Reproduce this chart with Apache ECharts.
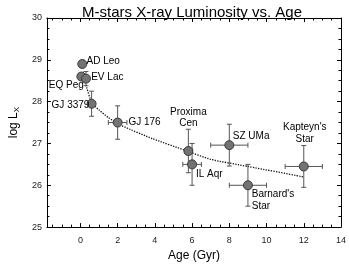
<!DOCTYPE html>
<html>
<head>
<meta charset="utf-8">
<script src="https://cdn.jsdelivr.net/npm/echarts@6/dist/echarts.min.js"></script>
<style>
html,body{margin:0;padding:0;background:#fff;}
#chart{width:349px;height:267px;}
</style>
</head>
<body>
<div id="chart"></div>
<script>
// ---- data ----
var starNames = ['AD Leo', 'EQ Peg', 'EV Lac', 'GJ 3379', 'GJ 176', 'Proxima\nCen', 'IL Aqr', 'SZ UMa', "Barnard's\nStar", "Kapteyn's\nStar"];
var ages      = [0.1, 0.05, 0.3, 0.6, 2.0, 5.8, 6.0, 8.0, 9.0, 12.0];
var logLx     = [28.9, 28.6, 28.55, 27.95, 27.5, 26.82, 26.5, 26.96, 26.0, 26.45];
var ageErr    = [0, 0, 0, 0, 0.5, 0.2, 0.5, 1.0, 1.0, 1.0];
var logLxErr  = [0.08, 0.08, 0.17, 0.3, 0.4, 0.52, 0.5, 0.5, 0.5, 0.5];

var fitAges   = [0.3, 0.6, 1.0, 1.5, 2.2, 3.9, 5.6, 7.0, 9.0, 12.0];
var fitLogLx  = [28.4, 27.98, 27.8, 27.62, 27.43, 27.11, 26.84, 26.62, 26.45, 26.2];

var xTickLabels = [0, 2, 4, 6, 8, 10, 12, 14];
var xMinorTicks = [-1.5, -1, -0.5, 0.5, 1, 1.5, 2.5, 3, 3.5, 4.5, 5, 5.5, 6.5, 7, 7.5, 8.5, 9, 9.5, 10.5, 11, 11.5, 12.5, 13, 13.5];
var yTickLabels = [25, 26, 27, 28, 29, 30];

// ---- label layout (offset of label from point centre, px) ----
var labelLayout = {
  'AD Leo': [4.7, -2, 'left'],
  'EQ Peg': [3, 9.3, 'right'],
  'EV Lac': [5.7, -1, 'left'],
  'GJ 3379': [-1.7, 2.3, 'right'],
  'GJ 176': [11.3, 0, 'left'],
  'Proxima\nCen': [0.5, -32.5, 'center'],
  'IL Aqr': [4.3, 10.3, 'left'],
  'SZ UMa': [4, -8, 'left'],
  "Barnard's\nStar": [4.3, 15.4, 'left'],
  "Kapteyn's\nStar": [1.5, -32.5, 'center']
};

var FONT = '"Liberation Sans", Arial, Helvetica, sans-serif';
var SYM = 9;

var pointData = starNames.map(function (n, i) {
  var L = labelLayout[n];
  return {
    value: [ages[i], logLx[i]],
    label: {
      show: true,
      formatter: n,
      position: [SYM / 2 + L[0], SYM / 2 + L[1]],
      align: L[2],
      verticalAlign: 'middle',
      fontSize: 10,
      lineHeight: 11.5,
      fontFamily: FONT,
      color: '#000'
    }
  };
});

var errData = starNames.map(function (n, i) {
  return [ages[i], logLx[i], ageErr[i], logLxErr[i]];
});

var fitData = fitAges.map(function (a, i) { return [a, fitLogLx[i]]; });

function renderErr(params, api) {
  var x = api.value(0), y = api.value(1), ex = api.value(2), ey = api.value(3);
  var c = api.coord([x, y]);
  var style = { stroke: '#555', lineWidth: 1 };
  var cap = 2.5;
  var children = [];
  if (ey > 0) {
    var t = api.coord([x, y + ey]), b = api.coord([x, y - ey]);
    children.push({ type: 'line', shape: { x1: c[0], y1: t[1], x2: c[0], y2: b[1] }, style: style });
    children.push({ type: 'line', shape: { x1: c[0] - cap, y1: t[1], x2: c[0] + cap, y2: t[1] }, style: style });
    children.push({ type: 'line', shape: { x1: c[0] - cap, y1: b[1], x2: c[0] + cap, y2: b[1] }, style: style });
  }
  if (ex > 0) {
    var l = api.coord([x - ex, y]), r = api.coord([x + ex, y]);
    children.push({ type: 'line', shape: { x1: l[0], y1: c[1], x2: r[0], y2: c[1] }, style: style });
    children.push({ type: 'line', shape: { x1: l[0], y1: c[1] - cap, x2: l[0], y2: c[1] + cap }, style: style });
    children.push({ type: 'line', shape: { x1: r[0], y1: c[1] - cap, x2: r[0], y2: c[1] + cap }, style: style });
  }
  return { type: 'group', children: children };
}

var axisLineStyle = { color: '#000', width: 1 };
function xAx(pos, major, withLabel) {
  return {
    type: 'value', position: pos, min: -1.8, max: 14,
    axisLine: { show: major, onZero: false, lineStyle: axisLineStyle },
    axisTick: { show: true, inside: true, length: major ? 4 : 2.5, customValues: major ? xTickLabels : xMinorTicks, lineStyle: axisLineStyle },
    axisLabel: { show: withLabel, customValues: xTickLabels, fontSize: 9, fontFamily: FONT, color: '#222', margin: 9 },
    splitLine: { show: false },
    name: withLabel ? 'Age (Gyr)' : '',
    nameLocation: 'middle', nameGap: 15,
    nameTextStyle: { fontSize: 12, fontFamily: FONT, color: '#000' }
  };
}
function yAx(pos, withLabel) {
  return {
    type: 'value', position: pos, min: 25, max: 30, interval: 1,
    axisLine: { show: true, onZero: false, lineStyle: axisLineStyle },
    axisTick: { show: true, inside: true, length: 4, lineStyle: axisLineStyle },
    minorTick: { show: true, splitNumber: 4, length: 2.5, lineStyle: axisLineStyle },
    axisLabel: { show: withLabel, fontSize: 9, fontFamily: FONT, color: '#222', margin: 5 },
    splitLine: { show: false },
    name: withLabel ? 'log L{s|X}' : '',
    nameLocation: 'middle', nameGap: 17, nameRotate: 90,
    nameTextStyle: { fontSize: 12, fontFamily: FONT, color: '#000',
      rich: { s: { fontSize: 8, fontFamily: FONT, verticalAlign: 'bottom', padding: [6, 0, 0, 0] } } }
  };
}

var chart = echarts.init(document.getElementById('chart'), null, { renderer: 'canvas' });
chart.setOption({
  animation: false,
  backgroundColor: '#fff',
  title: {
    text: 'M-stars X-ray Luminosity vs. Age',
    left: 187, top: 0, textAlign: 'center',
    textStyle: { fontSize: 15, fontWeight: 'normal', fontFamily: FONT, color: '#000' }
  },
  grid: { left: 31, right: 6, top: 18, bottom: 30, containLabel: false },
  xAxis: [xAx('bottom', true, true), xAx('bottom', false, false), xAx('top', true, false), xAx('top', false, false)],
  yAxis: [yAx('left', true), yAx('right', false)],
  series: [
    {
      type: 'line', data: fitData, xAxisIndex: 0, yAxisIndex: 0,
      showSymbol: false, smooth: 0.2, silent: true,
      lineStyle: { type: 'dotted', width: 1.3, color: '#111' }, z: 1
    },
    {
      type: 'custom', data: errData, xAxisIndex: 0, yAxisIndex: 0,
      renderItem: renderErr, z: 2, silent: true
    },
    {
      type: 'scatter', data: pointData, xAxisIndex: 0, yAxisIndex: 0,
      symbol: 'circle', symbolSize: SYM,
      itemStyle: { color: '#737373', borderColor: '#3a3a3a', borderWidth: 1, opacity: 1 },
      z: 3
    }
  ]
});
</script>
</body>
</html>
